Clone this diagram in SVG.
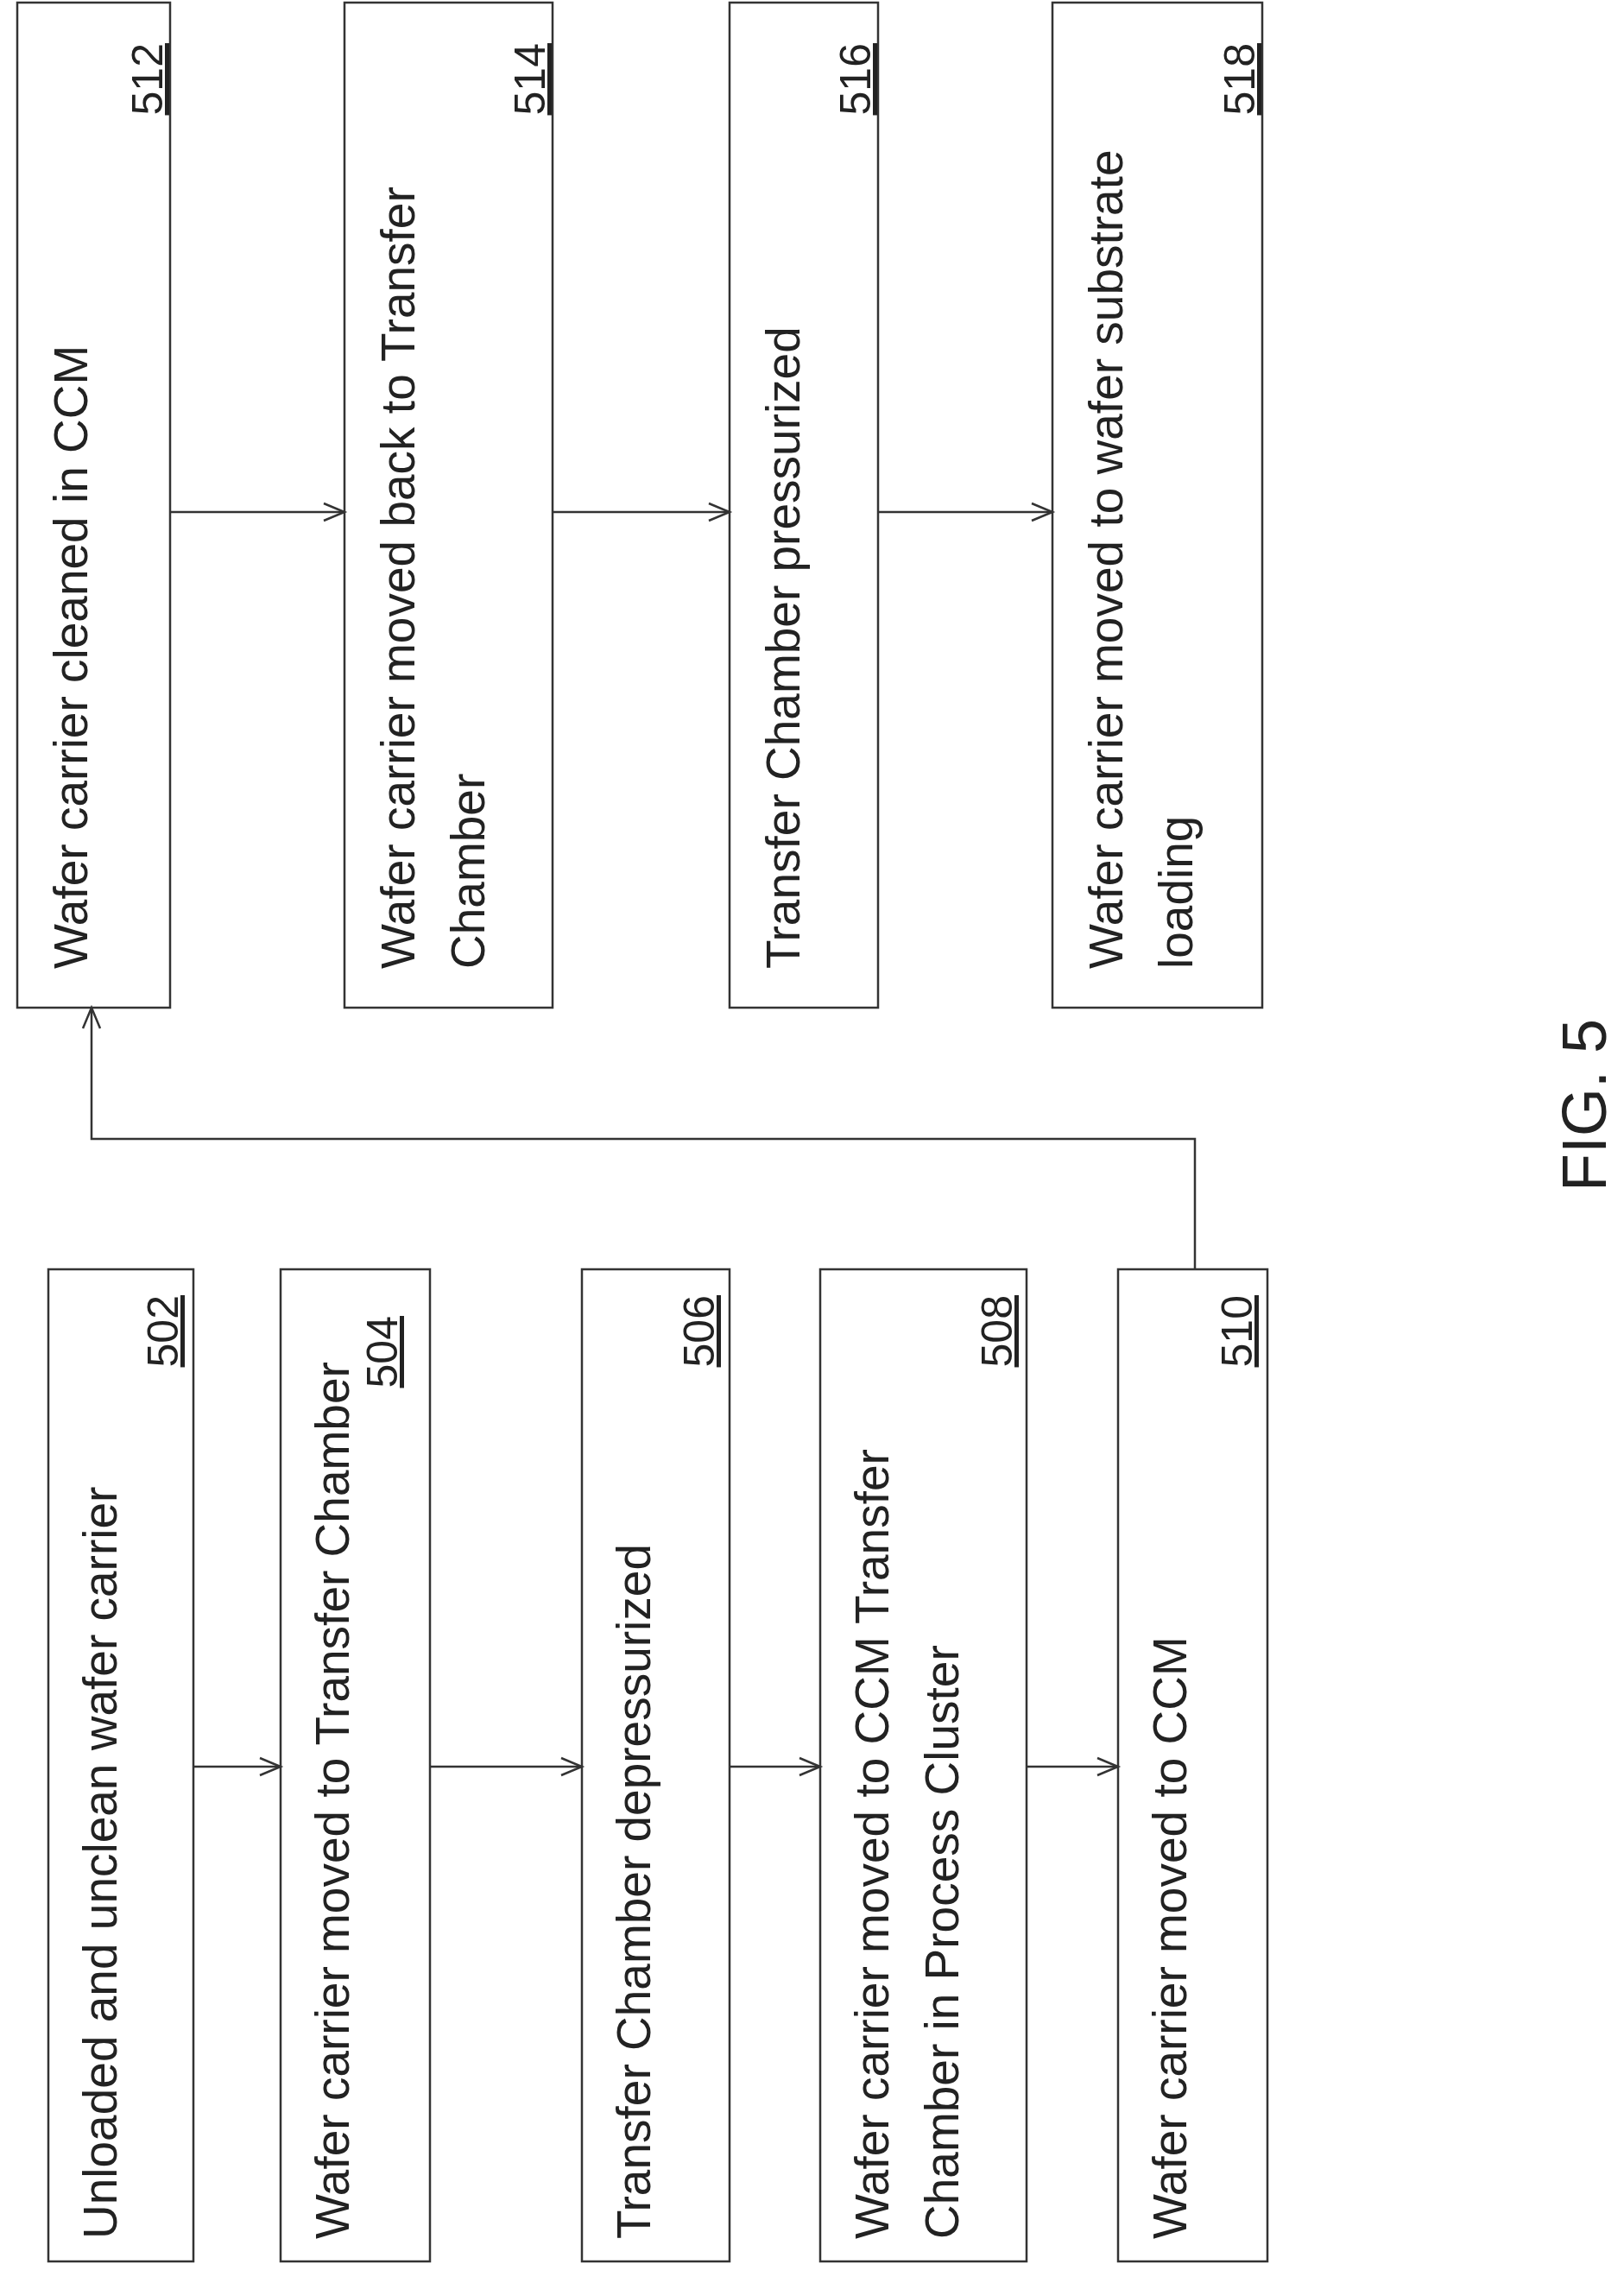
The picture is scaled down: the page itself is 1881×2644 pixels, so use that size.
<svg xmlns="http://www.w3.org/2000/svg" width="1881" height="2644" viewBox="0 0 1881 2644">
<style>
.box{fill:#fff;stroke:#333;stroke-width:2.5}
.t{font-family:"Liberation Sans",Arial,sans-serif;font-size:55px;fill:#222}
.n{font-family:"Liberation Sans",Arial,sans-serif;font-size:50px;fill:#222;text-anchor:end;text-decoration:underline}
.c{fill:none;stroke:#333;stroke-width:2.5;marker-end:url(#a)}
</style>
<defs><marker id="a" markerWidth="30" markerHeight="30" refX="26" refY="12" orient="auto" markerUnits="userSpaceOnUse"><path d="M2,2 L26,12 L2,22" fill="none" stroke="#333" stroke-width="2.5"/></marker></defs>
<rect width="1881" height="2644" fill="#fff"/>
<g id="n512"><rect class="box" x="20" y="3" width="177" height="1164"/><text class="t" transform="translate(101,1122) rotate(-90)">Wafer carrier cleaned in CCM</text><text class="n" transform="translate(188,50) rotate(-90)">512</text></g>
<g id="n514"><rect class="box" x="399" y="3" width="241" height="1164"/><text class="t" transform="translate(480,1122) rotate(-90)">Wafer carrier moved back to Transfer<tspan x="0" dy="81">Chamber</tspan></text><text class="n" transform="translate(631,50) rotate(-90)">514</text></g>
<g id="n516"><rect class="box" x="845" y="3" width="172" height="1164"/><text class="t" transform="translate(926,1122) rotate(-90)">Transfer Chamber pressurized</text><text class="n" transform="translate(1008,50) rotate(-90)">516</text></g>
<g id="n518"><rect class="box" x="1219" y="3" width="243" height="1164"/><text class="t" transform="translate(1300,1122) rotate(-90)">Wafer carrier moved to wafer substrate<tspan x="0" dy="81">loading</tspan></text><text class="n" transform="translate(1453,50) rotate(-90)">518</text></g>
<g id="n502"><rect class="box" x="56" y="1470" width="168" height="1149"/><text class="t" transform="translate(135,2593) rotate(-90)">Unloaded and unclean wafer carrier</text><text class="n" transform="translate(206,1500) rotate(-90)">502</text></g>
<g id="n504"><rect class="box" x="325" y="1470" width="173" height="1149"/><text class="t" transform="translate(404,2593) rotate(-90)">Wafer carrier moved to Transfer Chamber</text><text class="n" transform="translate(460,1524) rotate(-90)">504</text></g>
<g id="n506"><rect class="box" x="674" y="1470" width="171" height="1149"/><text class="t" transform="translate(753,2593) rotate(-90)">Transfer Chamber depressurized</text><text class="n" transform="translate(827,1500) rotate(-90)">506</text></g>
<g id="n508"><rect class="box" x="950" y="1470" width="239" height="1149"/><text class="t" transform="translate(1029,2593) rotate(-90)">Wafer carrier moved to CCM Transfer<tspan x="0" dy="81">Chamber in Process Cluster</tspan></text><text class="n" transform="translate(1172,1500) rotate(-90)">508</text></g>
<g id="n510"><rect class="box" x="1295" y="1470" width="173" height="1149"/><text class="t" transform="translate(1374,2593) rotate(-90)">Wafer carrier moved to CCM</text><text class="n" transform="translate(1450,1500) rotate(-90)">510</text></g>
<g id="connectors">
<path class="c" d="M197,593 H399"/>
<path class="c" d="M640,593 H845"/>
<path class="c" d="M1017,593 H1219"/>
<path class="c" d="M224,2046 H325"/>
<path class="c" d="M498,2046 H674"/>
<path class="c" d="M845,2046 H950"/>
<path class="c" d="M1189,2046 H1295"/>
<path class="c" d="M1384,1470 V1319 H106 V1167"/>
</g>
<text transform="translate(1860,1280) rotate(-90)" font-family="Liberation Sans,Arial,sans-serif" font-size="72" text-anchor="middle" fill="#222">FIG. 5</text>
</svg>
